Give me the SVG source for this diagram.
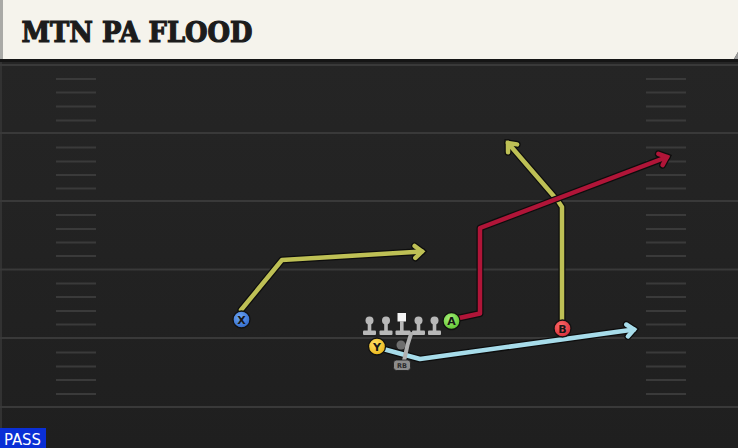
<svg xmlns="http://www.w3.org/2000/svg" width="738" height="448" viewBox="0 0 738 448">
<style>
.yard{stroke:#393939;stroke-width:2}
.hash{stroke:#3a3a3a;stroke-width:2}
.rt{fill:none;stroke-linejoin:round;stroke-linecap:round}
.ol{stroke:#0d0d0d;stroke-width:7}
.ln{fill:#b8b8b8}
.lbl{font-family:"DejaVu Sans",sans-serif;font-weight:bold;font-size:11px;fill:#161616;text-anchor:middle}
.pc{stroke:#111;stroke-width:1.3}
</style>
<defs>
<linearGradient id="field" x1="0" y1="0" x2="0" y2="1">
<stop offset="0" stop-color="#262626"/>
<stop offset="1" stop-color="#1f1f1f"/>
</linearGradient>
<radialGradient id="gX" cx="0.4" cy="0.35" r="0.7"><stop offset="0" stop-color="#6ea6f5"/><stop offset="1" stop-color="#2f68c8"/></radialGradient>
<radialGradient id="gY" cx="0.4" cy="0.35" r="0.7"><stop offset="0" stop-color="#ffe066"/><stop offset="1" stop-color="#e8b416"/></radialGradient>
<radialGradient id="gA" cx="0.4" cy="0.35" r="0.7"><stop offset="0" stop-color="#a6f07a"/><stop offset="1" stop-color="#5cc22e"/></radialGradient>
<radialGradient id="gB" cx="0.4" cy="0.35" r="0.7"><stop offset="0" stop-color="#ff6b6b"/><stop offset="1" stop-color="#d42a36"/></radialGradient>
<marker id="mO" markerUnits="userSpaceOnUse" markerWidth="20" markerHeight="20" viewBox="-12 -10 14 20" refX="0" refY="0" orient="auto" overflow="visible">
<path d="M-7,-6 L0,0 L-7,6" fill="none" stroke="#0d0d0d" stroke-width="7" stroke-linejoin="miter" stroke-linecap="round"/>
</marker>
<marker id="mYel" markerUnits="userSpaceOnUse" markerWidth="20" markerHeight="20" viewBox="-12 -10 14 20" refX="0" refY="0" orient="auto" overflow="visible">
<path d="M-7,-6 L0,0 L-7,6" fill="none" stroke="#bec055" stroke-width="4.5" stroke-linejoin="miter" stroke-linecap="round"/>
</marker>
<marker id="mRed" markerUnits="userSpaceOnUse" markerWidth="20" markerHeight="20" viewBox="-12 -10 14 20" refX="0" refY="0" orient="auto" overflow="visible">
<path d="M-7,-6 L0,0 L-7,6" fill="none" stroke="#b01538" stroke-width="4.5" stroke-linejoin="miter" stroke-linecap="round"/>
</marker>
<marker id="mBlu" markerUnits="userSpaceOnUse" markerWidth="20" markerHeight="20" viewBox="-12 -10 14 20" refX="0" refY="0" orient="auto" overflow="visible">
<path d="M-7,-6 L0,0 L-7,6" fill="none" stroke="#a7dcea" stroke-width="4.5" stroke-linejoin="miter" stroke-linecap="round"/>
</marker>
</defs>

<!-- field -->
<rect x="0" y="0" width="738" height="448" fill="url(#field)"/>
<rect x="0" y="60" width="2" height="388" fill="#323232"/>
<g id="yardlines">
<line class="yard" x1="0" y1="65" x2="738" y2="65"/>
<line class="yard" x1="0" y1="133" x2="738" y2="133"/>
<line class="yard" x1="0" y1="201" x2="738" y2="201"/>
<line class="yard" x1="0" y1="269.5" x2="738" y2="269.5"/>
<line class="yard" x1="0" y1="338" x2="738" y2="338"/>
<line class="yard" x1="0" y1="407" x2="738" y2="407"/>
</g>
<g id="hashes">
<path class="hash" d="M56,79H96M56,92.5H96M56,106.5H96M56,120.5H96M56,147.5H96M56,161.5H96M56,175H96M56,188.5H96M56,215H96M56,229H96M56,242.5H96M56,256H96M56,283.5H96M56,297H96M56,311H96M56,324.5H96M56,352.5H96M56,366.5H96M56,380H96M56,394H96"/>
<path class="hash" d="M646,79H686M646,92.5H686M646,106.5H686M646,120.5H686M646,147.5H686M646,161.5H686M646,175H686M646,188.5H686M646,215H686M646,229H686M646,242.5H686M646,256H686M646,283.5H686M646,297H686M646,311H686M646,324.5H686M646,352.5H686M646,366.5H686M646,380H686M646,394H686"/>
</g>

<!-- header -->
<g id="header">
<rect x="0" y="57" width="738" height="5" fill="#151515"/>
<path d="M0,0 H738 V52 L734,59 H0 Z" fill="#f5f3ec"/>
<rect x="0" y="0" width="3" height="59" fill="#a9a9a6"/>
<path d="M734,59 L738,52 V59 Z" fill="#9a9a9a"/>
<text x="21.5" y="41.5" font-family="'DejaVu Serif',serif" font-weight="bold" font-size="27" fill="#1c1c1c" stroke="#1c1c1c" stroke-width="1.2" stroke-linejoin="miter" textLength="231" lengthAdjust="spacingAndGlyphs">MTN PA FLOOD</text>
</g>

<!-- connectors -->
<g id="connectors">
<g class="rt">
<path class="ol" d="M241,310 L282,260 L422,251.5" marker-end="url(#mO)"/>
<path d="M241,310 L282,260 L422,251.5" stroke="#bec055" stroke-width="4.5" marker-end="url(#mYel)"/>
<path class="ol" d="M562,320 L562,207 L558,201 L508,143" marker-end="url(#mO)"/>
<path d="M562,320 L562,207 L558,201 L508,143" stroke="#bec055" stroke-width="4.5" marker-end="url(#mYel)"/>
<path class="ol" d="M459,318 L480,313.5 L480,228 L667,157" marker-end="url(#mO)"/>
<path d="M459,318 L480,313.5 L480,228 L667,157" stroke="#b01538" stroke-width="4.5" marker-end="url(#mRed)"/>
<path class="ol" d="M385,349.5 L420,359 L634,329.5" marker-end="url(#mO)"/>
<path d="M385,349.5 L420,359 L634,329.5" stroke="#a7dcea" stroke-width="4.5" marker-end="url(#mBlu)"/>
</g>
</g>

<!-- offensive line -->
<g id="line">
<g id="lt"><circle class="ln" cx="369.5" cy="320.5" r="4"/><rect class="ln" x="367.7" y="322" width="3.6" height="10"/><rect class="ln" x="363" y="330.5" width="13" height="4.5" rx="1"/></g>
<g id="lg"><circle class="ln" cx="386" cy="320.5" r="4"/><rect class="ln" x="384.2" y="322" width="3.6" height="10"/><rect class="ln" x="379.5" y="330.5" width="13" height="4.5" rx="1"/></g>
<g id="c"><rect x="397.5" y="313" width="8.5" height="8.5" fill="#f4f4f4"/><rect class="ln" x="400" y="321" width="3.6" height="11"/><rect class="ln" x="395.5" y="330.5" width="15" height="4.5" rx="1"/></g>
<g id="rg"><circle class="ln" cx="418.5" cy="320.5" r="4"/><rect class="ln" x="416.7" y="322" width="3.6" height="10"/><rect class="ln" x="412" y="330.5" width="13" height="4.5" rx="1"/></g>
<g id="rt"><circle class="ln" cx="434.5" cy="320.5" r="4"/><rect class="ln" x="432.7" y="322" width="3.6" height="10"/><rect class="ln" x="428" y="330.5" width="13" height="4.5" rx="1"/></g>
</g>
<g id="qb"><circle cx="401" cy="345" r="4.5" fill="#6e6e6e"/></g>
<g id="rb">
<path d="M411,334 L407.5,345 L404,361" fill="none" stroke="#b0b0b0" stroke-width="4" stroke-linecap="round"/>
<rect x="393.5" y="360" width="17" height="10.5" rx="3" fill="#8c8c8c" stroke="#1a1a1a" stroke-width="0.8"/>
<text x="402" y="368.3" font-family="'DejaVu Sans',sans-serif" font-weight="bold" font-size="6.5" fill="#2b2b2b" text-anchor="middle">RB</text>
</g>

<!-- skill players -->
<g id="X"><circle class="pc" cx="241.5" cy="319.5" r="8.5" fill="url(#gX)"/><text class="lbl" x="241.5" y="323.5">X</text></g>
<g id="Y"><circle class="pc" cx="377" cy="346.5" r="8.5" fill="url(#gY)"/><text class="lbl" x="377" y="350.5">Y</text></g>
<g id="A"><circle class="pc" cx="451.5" cy="321" r="8.5" fill="url(#gA)"/><text class="lbl" x="451.5" y="325">A</text></g>
<g id="B"><circle class="pc" cx="562.5" cy="328.5" r="8.5" fill="url(#gB)"/><text class="lbl" x="562.5" y="332.5">B</text></g>

<!-- badge -->
<g id="pass">
<rect x="0" y="428" width="46" height="20" fill="#0a2fd6"/>
<text x="4" y="445" font-family="'DejaVu Sans Condensed','DejaVu Sans',sans-serif" font-size="15" fill="#ffffff" textLength="37" lengthAdjust="spacingAndGlyphs">PASS</text>
</g>
</svg>
